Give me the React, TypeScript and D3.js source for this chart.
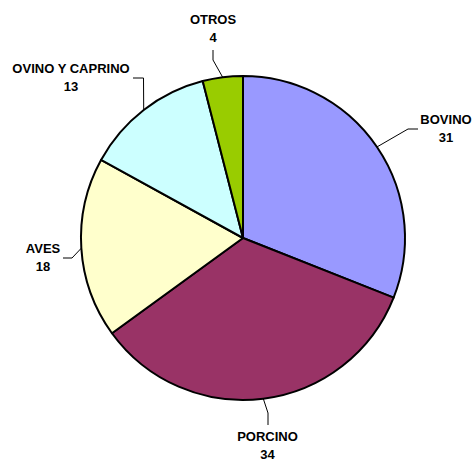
import React from 'react'
import * as d3 from 'd3'

// share of each species (%), clockwise from 12 o'clock
const categories = ['BOVINO', 'PORCINO', 'AVES', 'OVINO Y CAPRINO', 'OTROS']
const values = [31, 34, 18, 13, 4]
const colors = ['#9999FF', '#993366', '#FFFFCC', '#CCFFFF', '#99CC00']

const width = 473
const height = 459
const cx = 243
const cy = 238
const radius = 162

// where the leader line bends / ends and where the label block sits
const labelLayout: Record<string, { elbow: [number, number]; end: [number, number]; x: number; y: number }> = {
  'BOVINO': { elbow: [408, 129], end: [418, 129], x: 446, y: 124 },
  'PORCINO': { elbow: [268, 413], end: [268, 425], x: 267.5, y: 440.5 },
  'AVES': { elbow: [72, 258], end: [63, 258], x: 43, y: 253 },
  'OVINO Y CAPRINO': { elbow: [143.5, 78], end: [133, 78], x: 71, y: 72.5 },
  'OTROS': { elbow: [213, 60], end: [213, 50], x: 213, y: 24 }
}

export default function App() {
  const data = categories.map((c, i) => ({ name: c, value: values[i], color: colors[i] }))

  const pie = d3.pie<any>().sort(null).value(d => d.value)
  const arcs = pie(data)
  const arc = d3.arc<any>().innerRadius(0).outerRadius(radius)

  return (
    <div style={{ position: 'fixed', left: 0, top: 0 }}>
      <svg width={width} height={height} style={{ display: 'block', background: '#fff' }}>
        <g transform={'translate(' + cx + ',' + cy + ')'}>
          {arcs.map((a, i) => (
            <path key={i} d={arc(a) as string} fill={a.data.color} stroke="#000" strokeWidth={2} strokeLinejoin="round" />
          ))}
        </g>
        {arcs.map((a, i) => {
          const mid = (a.startAngle + a.endAngle) / 2
          const sx = cx + radius * Math.sin(mid)
          const sy = cy - radius * Math.cos(mid)
          const lay = labelLayout[a.data.name]
          const pts = [[sx, sy], lay.elbow, lay.end]
          return (
            <g key={'l' + i}>
              <polyline points={pts.map(p => p.join(',')).join(' ')} fill="none" stroke="#000" strokeWidth={1} />
              <text x={lay.x} y={lay.y} textAnchor="middle" fontFamily="'Liberation Sans', Arial, sans-serif" fontWeight="bold" fontSize={13} fill="#000">
                {a.data.name}
              </text>
              <text x={lay.x} y={lay.y + 18} textAnchor="middle" fontFamily="'Liberation Sans', Arial, sans-serif" fontWeight="bold" fontSize={13} fill="#000">
                {a.data.value}
              </text>
            </g>
          )
        })}
      </svg>
    </div>
  )
}
